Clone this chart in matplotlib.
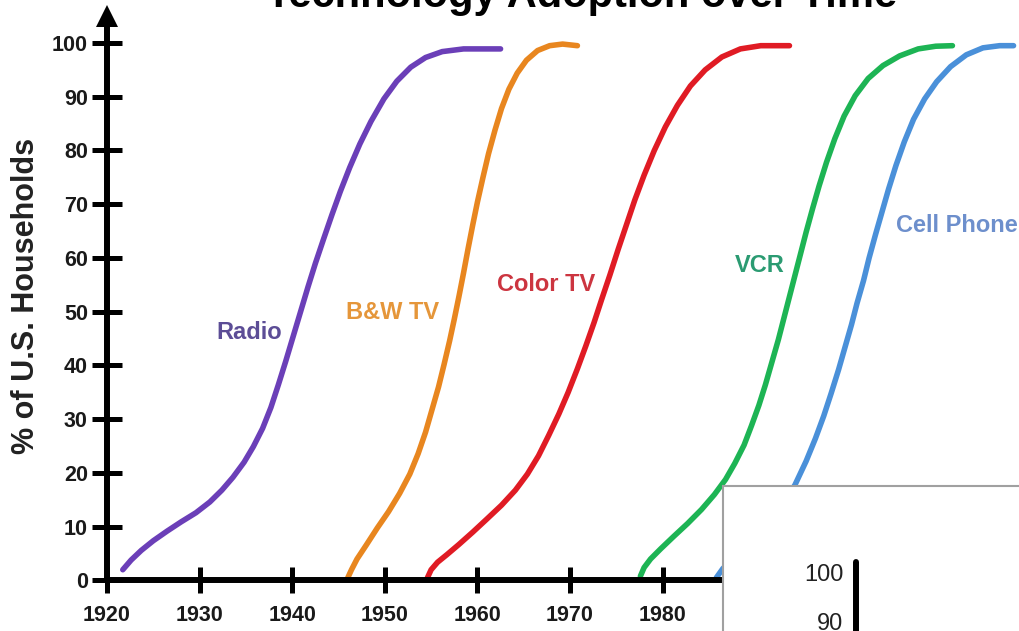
import matplotlib.pyplot as plt

plt.rcParams['font.family'] = ['Liberation Sans', 'DejaVu Sans']

# values (year, % of households)
radio_years = [1921.7, 1922.6, 1923.7, 1925.0, 1926.5, 1928.0, 1929.6, 1931.1, 1932.4, 1933.6,
               1934.8, 1935.8, 1936.8, 1937.7, 1938.5, 1939.3, 1940.1, 1940.9, 1941.7, 1942.5,
               1943.4, 1944.3, 1945.2, 1946.2, 1947.3, 1948.5, 1949.9, 1951.3, 1952.8, 1954.4,
               1956.2, 1958.5, 1962.5]
radio_pct = [2.0, 3.8, 5.6, 7.4, 9.2, 10.9, 12.6, 14.6, 16.8, 19.2,
             22.0, 24.9, 28.3, 32.2, 36.4, 40.8, 45.4, 50.0, 54.6, 59.0,
             63.6, 68.1, 72.4, 76.8, 81.2, 85.4, 89.6, 92.9, 95.5, 97.3,
             98.4, 98.9, 98.9]

bw_years = [1946.0, 1946.4, 1947.0, 1948.0, 1949.2, 1950.4, 1951.6, 1952.7, 1953.6, 1954.4,
            1955.1, 1955.8, 1956.4, 1957.0, 1957.5, 1958.0, 1958.5, 1959.0, 1959.5, 1960.0,
            1960.6, 1961.2, 1961.9, 1962.6, 1963.4, 1964.3, 1965.3, 1966.5, 1967.8, 1969.2,
            1970.8]
bw_pct = [0.5, 2.0, 4.0, 6.6, 9.8, 12.8, 16.2, 19.8, 23.6, 27.6,
          31.8, 36.0, 40.2, 44.6, 48.6, 52.8, 57.2, 61.8, 66.2, 70.4,
          75.0, 79.4, 83.8, 87.8, 91.4, 94.4, 96.8, 98.6, 99.5, 99.8,
          99.5]

color_years = [1954.6, 1955.0, 1955.7, 1956.7, 1958.0, 1959.5, 1961.0, 1962.6, 1964.1, 1965.4,
               1966.6, 1967.7, 1968.8, 1969.8, 1970.8, 1971.7, 1972.6, 1973.4, 1974.3, 1975.2,
               1976.1, 1977.0, 1978.0, 1979.1, 1980.3, 1981.6, 1983.0, 1984.6, 1986.4, 1988.4,
               1990.6, 1993.7]
color_pct = [0.5, 2.0, 3.4, 4.8, 6.7, 9.0, 11.4, 14.0, 16.8, 19.8,
             23.2, 27.0, 31.0, 35.0, 39.4, 43.6, 48.0, 52.2, 56.8, 61.6,
             66.2, 70.8, 75.4, 80.0, 84.4, 88.4, 92.0, 95.0, 97.4, 98.9,
             99.5, 99.5]

vcr_years = [1977.6, 1978.0, 1978.7, 1979.8, 1981.2, 1982.7, 1984.2, 1985.6, 1986.8, 1987.8,
             1988.8, 1989.6, 1990.4, 1991.1, 1991.8, 1992.5, 1993.1, 1993.7, 1994.3, 1994.9,
             1995.5, 1996.2, 1996.9, 1997.7, 1998.6, 1999.6, 2000.8, 2002.2, 2003.8, 2005.6,
             2007.6, 2009.5, 2011.3]
vcr_pct = [0.8, 2.4, 4.0, 5.9, 8.2, 10.6, 13.2, 16.0, 18.8, 21.8,
           25.2, 28.8, 32.6, 36.4, 40.6, 44.8, 48.8, 52.8, 56.8, 60.8,
           64.8, 69.2, 73.4, 77.8, 82.2, 86.4, 90.2, 93.4, 95.8, 97.6,
           98.9, 99.4, 99.5]

cell_years = [1985.8, 1986.5, 1988.0, 1989.6, 1991.2, 1992.8, 1994.3, 1995.5, 1996.5, 1997.4,
              1998.2, 1999.0, 1999.7, 2000.4, 2001.0, 2001.7, 2002.3, 2003.0, 2003.7, 2004.4,
              2005.2, 2006.1, 2007.1, 2008.3, 2009.6, 2011.1, 2012.8, 2014.6, 2016.4, 2017.9]
cell_pct = [0.5, 2.2, 4.8, 7.4, 10.2, 13.6, 17.8, 22.2, 26.4, 30.6,
            34.8, 39.2, 43.4, 47.6, 51.6, 55.8, 60.0, 64.4, 68.6, 72.8,
            77.2, 81.6, 85.8, 89.6, 92.8, 95.6, 97.8, 99.1, 99.5, 99.5]

names = ['Radio', 'B&W TV', 'Color TV', 'VCR', 'Cell Phone']
line_colors = ['#6b3fb8', '#e8861f', '#e01b24', '#1db454', '#4a90d9']
text_colors = ['#5c4d96', '#e5963a', '#cc3540', '#2b9b72', '#6d8fcc']
label_x = [1935.3, 1950.8, 1967.4, 1990.5, 2005.2]
label_y = [46.1, 49.8, 55.1, 58.6, 66.1]

year_ticks = list(range(1920, 1990, 10))
pct_ticks = list(range(0, 101, 10))
inset_ticks = [90, 100]

fig = plt.figure(figsize=(10.19, 6.31), dpi=100)
ax = fig.add_axes([0, 0, 1, 1])
ax.set_xlim(1908.44, 2018.49)
ax.set_ylim(-9.40, 108.0)

series = [(radio_years, radio_pct), (bw_years, bw_pct), (color_years, color_pct),
          (vcr_years, vcr_pct), (cell_years, cell_pct)]
for (xs, ys), c in zip(series, line_colors):
    ax.plot(xs, ys, color=c, lw=4, solid_capstyle='round', solid_joinstyle='round')

for i in range(len(names)):
    ha = 'left' if names[i] == 'Cell Phone' else 'center'
    ax.text(label_x[i], label_y[i], names[i], color=text_colors[i], fontsize=17,
            fontweight='bold', ha=ha, va='center')

# axes with crossing ticks and an arrow on y
ax.spines['top'].set_visible(False)
ax.spines['right'].set_visible(False)
ax.spines['left'].set_position(('data', 1920))
ax.spines['bottom'].set_position(('data', 0))
ax.spines['left'].set_bounds(0, 104)
ax.spines['bottom'].set_bounds(1920, 2018.49)
ax.spines['left'].set_linewidth(4.3)
ax.spines['bottom'].set_linewidth(4.3)
ax.plot(1920, 105.1, marker='^', ms=16, mew=0, color='k', clip_on=False)

ax.set_xticks(year_ticks)
ax.set_yticks(pct_ticks)
ax.tick_params(axis='both', direction='inout', width=3.6, color='k',
               labelsize=15.5, labelcolor='#1a1a1a')
ax.tick_params(axis='y', length=21.6, pad=3)
ax.tick_params(axis='x', length=19.4, pad=8)
for lab in ax.get_xticklabels() + ax.get_yticklabels():
    lab.set_fontweight('bold')

fig.text(581.5 / 1019, 1 - 7 / 631, 'Technology Adoption over Time', ha='center',
         va='baseline', fontsize=30, fontweight='bold')
fig.text(26 / 1019, 1 - 296 / 631, '% of U.S. Households', rotation=90, ha='center',
         va='center', fontsize=22, fontweight='bold', color='#222222')

# overlapping panel in the lower right corner
box = fig.add_axes([722.7 / 1019, 0, 1 - 722.7 / 1019, (631 - 485.7) / 631])
box.set_facecolor('white')
box.set_xticks([])
box.set_yticks([])
box.spines['right'].set_visible(False)
box.spines['bottom'].set_visible(False)
for s in ['top', 'left']:
    box.spines[s].set_color('#a0a0a0')
    box.spines[s].set_linewidth(1.5)

inner = fig.add_axes([856 / 1019, 0, (1019 - 856) / 1019, (631 - 562) / 631])
inner.patch.set_alpha(0)
inner.set_ylim(88.06, 102.14)
inner.set_yticks(inset_ticks)
inner.set_xticks([])
for s in ['top', 'right', 'bottom']:
    inner.spines[s].set_visible(False)
inner.spines['left'].set_linewidth(4.3)
inner.spines['left'].set_capstyle('round')
inner.tick_params(axis='y', length=0, pad=9, labelsize=17, labelcolor='#222222')

fig.savefig('out.png', dpi=100)
